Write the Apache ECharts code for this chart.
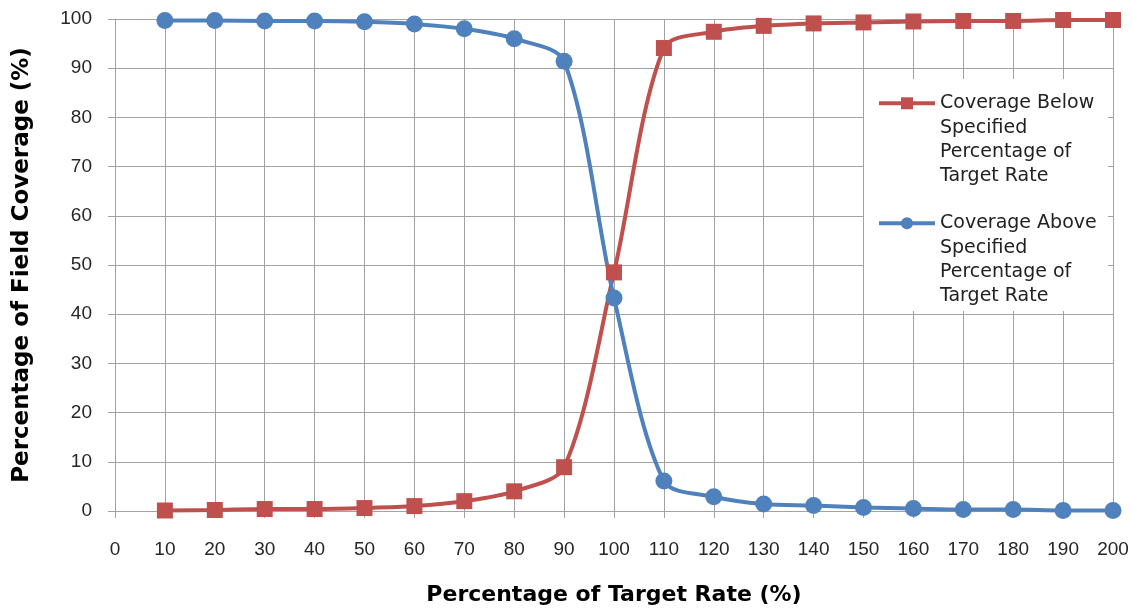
<!DOCTYPE html>
<html>
<head>
<meta charset="utf-8">
<style>
  html, body { margin: 0; padding: 0; background: #ffffff; }
  #chart { width: 1132px; height: 611px; }
</style>
<script src="https://cdn.jsdelivr.net/npm/echarts@6/dist/echarts.min.js"></script>
</head>
<body>
<div id="chart"></div>
<script>
// ---- data ----
var targetRate = [10, 20, 30, 40, 50, 60, 70, 80, 90, 100, 110, 120, 130, 140, 150, 160, 170, 180, 190, 200];
var coverageBelow = [0.1, 0.2, 0.4, 0.4, 0.6, 1.0, 2.0, 4.0, 8.9, 48.5, 94.1, 97.4, 98.6, 99.1, 99.3, 99.5, 99.6, 99.6, 99.8, 99.8];
var coverageAbove = [99.7, 99.7, 99.6, 99.6, 99.45, 99.0, 98.0, 96.0, 91.4, 43.3, 6.1, 2.9, 1.4, 1.1, 0.7, 0.5, 0.3, 0.3, 0.1, 0.1];
var seriesNames = [
  'Coverage Below\nSpecified\nPercentage of\nTarget Rate',
  'Coverage Above\nSpecified\nPercentage of\nTarget Rate'
];
var xAxisTitle = 'Percentage of Target Rate (%)';
var yAxisTitle = 'Percentage of Field Coverage (%)';

function pairs(xs, ys) {
  return xs.map(function (x, i) { return [x, ys[i]]; });
}

var chart = echarts.init(document.getElementById('chart'), null, { renderer: 'canvas' });
var gridColor = '#a3a3a3';
var LH = 24.4;

chart.setOption({
  animation: false,
  backgroundColor: '#ffffff',
  grid: { left: 115, right: 19, top: 19, bottom: 98, containLabel: false },
  xAxis: {
    type: 'value',
    min: 0, max: 200, interval: 10,
    name: xAxisTitle,
    nameLocation: 'middle',
    nameGap: 73,
    nameTextStyle: { fontFamily: 'DejaVu Sans', fontWeight: 'bold', fontSize: 22, color: '#000' },
    axisLine: { show: true, lineStyle: { color: gridColor, width: 1 } },
    axisTick: { show: true, inside: false, length: 7, lineStyle: { color: gridColor } },
    axisLabel: { margin: 29, fontFamily: 'Liberation Sans', fontSize: 19, color: '#262626', showMinLabel: true, showMaxLabel: true },
    splitLine: { show: true, lineStyle: { color: gridColor, width: 1 } }
  },
  yAxis: {
    type: 'value',
    min: 0, max: 100, interval: 10,
    name: yAxisTitle,
    nameLocation: 'middle',
    nameGap: 81,
    nameTextStyle: { fontFamily: 'DejaVu Sans', fontWeight: 'bold', fontSize: 23, color: '#000' },
    axisLine: { show: true, lineStyle: { color: gridColor, width: 1 } },
    axisTick: { show: true, inside: false, length: 7, lineStyle: { color: gridColor } },
    axisLabel: { margin: 23, fontFamily: 'Liberation Sans', fontSize: 19, color: '#262626' },
    splitLine: { show: true, lineStyle: { color: gridColor, width: 1 } }
  },
  graphic: [{
    type: 'rect',
    z: 3,
    silent: true,
    shape: { x: 864, y: 79, width: 244, height: 232 },
    style: { fill: '#ffffff' }
  }],
  legend: {
    orient: 'vertical',
    left: 877,
    top: 103.3 - 3.5 * LH,
    padding: 0,
    itemGap: 120 - 7 * LH,
    itemWidth: 56,
    itemHeight: 15,
    z: 5,
    lineStyle: { width: 4 },
    formatter: function (name) {
      return name.split('\n').map(function (s) { return '{t|' + s + '}'; }).join('\n');
    },
    textStyle: {
      fontFamily: 'DejaVu Sans',
      fontSize: 19,
      color: '#222',
      lineHeight: LH,
      padding: [3 * LH, 0, 0, 0],
      rich: {
        t: { fontFamily: 'DejaVu Sans', fontSize: 19, color: '#222', lineHeight: LH }
      }
    },
    data: seriesNames
  },
  series: [
    {
      name: seriesNames[0],
      type: 'line',
      smooth: 0.3,
      data: pairs(targetRate, coverageBelow),
      symbol: 'rect',
      symbolSize: 16,
      lineStyle: { color: '#C0504D', width: 4 },
      itemStyle: { color: '#C0504D' },
      z: 2
    },
    {
      name: seriesNames[1],
      type: 'line',
      smooth: 0.3,
      data: pairs(targetRate, coverageAbove),
      symbol: 'circle',
      symbolSize: 17,
      lineStyle: { color: '#4F81BD', width: 4 },
      itemStyle: { color: '#4F81BD' },
      z: 2
    }
  ]
});
</script>
</body>
</html>
